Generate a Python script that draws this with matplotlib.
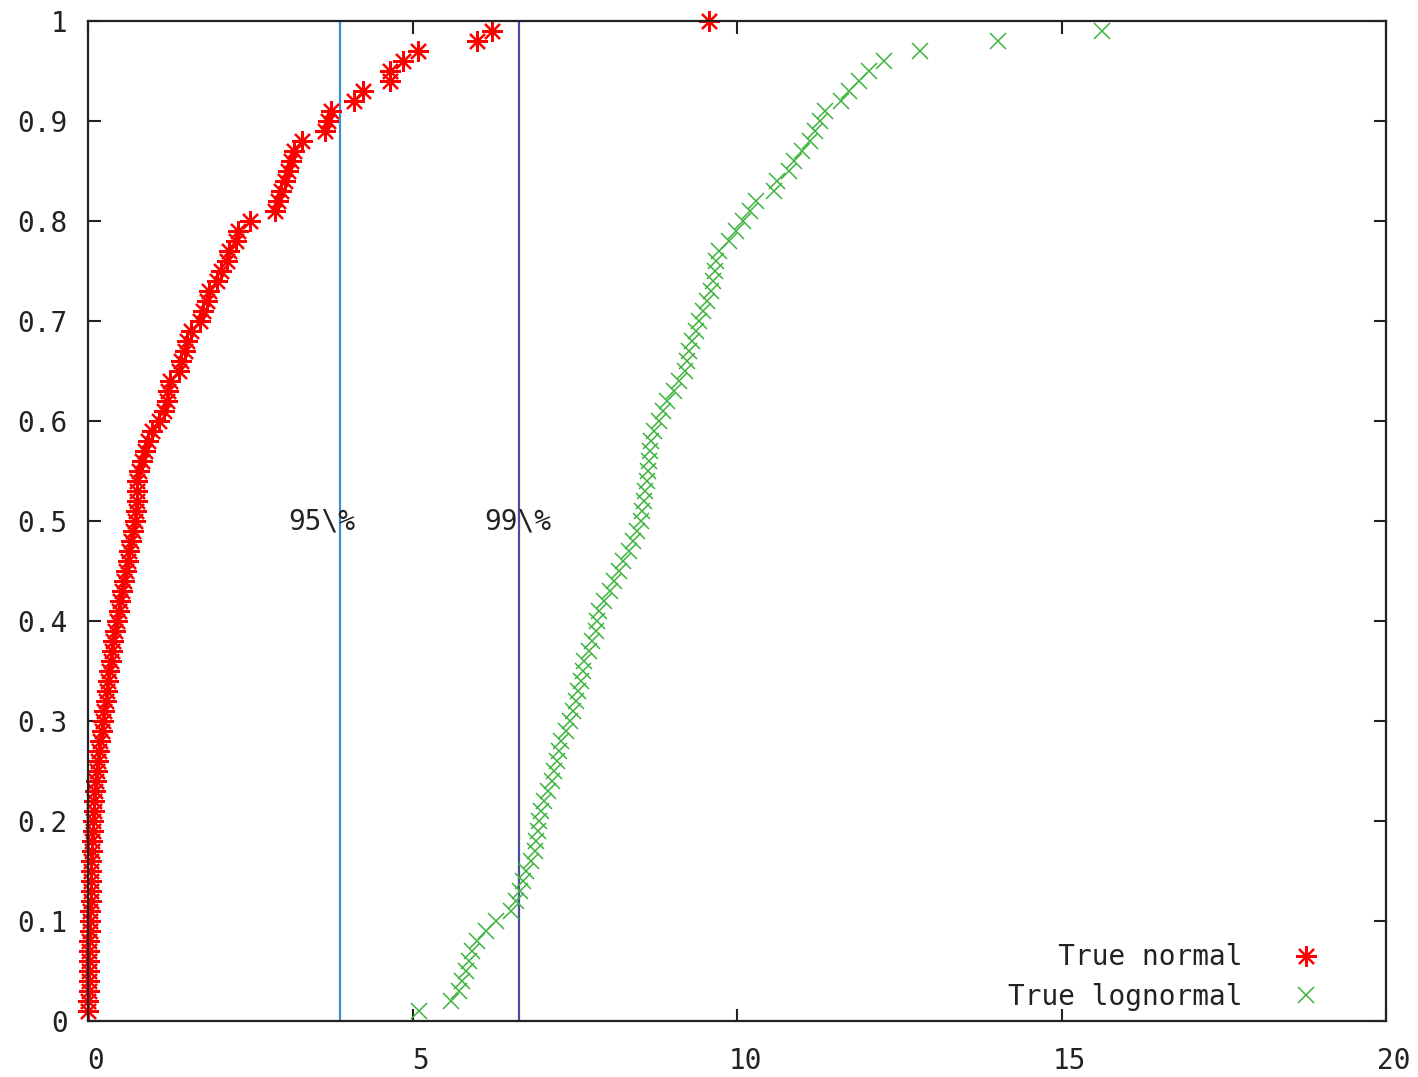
import numpy as np
import matplotlib
matplotlib.use("Agg")
import matplotlib.pyplot as plt
import matplotlib.transforms as mtransforms
from matplotlib.ticker import FuncFormatter

# Sorted sample values; the empirical CDF level of the i-th value is i/100
normal_x = [
    0.00, 0.00, 0.01, 0.01, 0.01, 0.02, 0.02, 0.02, 0.03, 0.03,
    0.03, 0.04, 0.04, 0.04, 0.05, 0.05, 0.06, 0.06, 0.07, 0.08,
    0.09, 0.10, 0.11, 0.13, 0.14, 0.15, 0.17, 0.19, 0.21, 0.23,
    0.24, 0.27, 0.29, 0.31, 0.33, 0.35, 0.37, 0.39, 0.42, 0.45,
    0.47, 0.49, 0.53, 0.56, 0.59, 0.61, 0.63, 0.67, 0.70, 0.72,
    0.74, 0.75, 0.75, 0.76, 0.78, 0.83, 0.88, 0.92, 0.98, 1.09,
    1.17, 1.22, 1.24, 1.27, 1.40, 1.43, 1.49, 1.53, 1.58, 1.72,
    1.77, 1.83, 1.86, 1.99, 2.05, 2.14, 2.18, 2.28, 2.31, 2.49,
    2.88, 2.92, 2.97, 3.03, 3.08, 3.13, 3.18, 3.29, 3.65, 3.70,
    3.74, 4.10, 4.24, 4.65, 4.66, 4.85, 5.08, 6.00, 6.23, 9.57,
]

lognormal_x = [
    5.10, 5.60, 5.72, 5.77, 5.83, 5.87, 5.92, 6.00, 6.14, 6.29,
    6.52, 6.60, 6.66, 6.71, 6.75, 6.83, 6.88, 6.91, 6.94, 6.95,
    6.98, 7.03, 7.09, 7.15, 7.18, 7.22, 7.25, 7.29, 7.37, 7.42,
    7.48, 7.52, 7.55, 7.60, 7.63, 7.65, 7.72, 7.77, 7.82, 7.85,
    7.88, 7.95, 8.05, 8.10, 8.18, 8.25, 8.34, 8.40, 8.46, 8.52,
    8.54, 8.57, 8.59, 8.62, 8.63, 8.65, 8.66, 8.68, 8.72, 8.80,
    8.86, 8.92, 9.03, 9.10, 9.20, 9.23, 9.26, 9.31, 9.37, 9.42,
    9.48, 9.54, 9.60, 9.63, 9.66, 9.68, 9.72, 9.88, 9.98, 10.10,
    10.20, 10.30, 10.57, 10.62, 10.80, 10.88, 11.00, 11.12, 11.20, 11.28,
    11.35, 11.60, 11.72, 11.88, 12.03, 12.26, 12.82, 14.02, 15.62,
]

cutoff_x = [3.88, 6.64]
cutoff_labels = ["95\\%", "99\\%"]
cutoff_label_x = [3.60, 6.62]
cutoff_colors = ["#3d8fd1", "#4b4ba6"]

normal_y = np.arange(1, len(normal_x) + 1) / 100
lognormal_y = np.arange(1, len(lognormal_x) + 1) / 100

font = "DejaVu Sans Mono"
fs = 20

fig = plt.figure(figsize=(14.18, 10.77), dpi=100)
ax = fig.add_axes([88 / 1418, 56 / 1077, 1298 / 1418, 1000 / 1077])

for xv, col in zip(cutoff_x, cutoff_colors):
    ax.axvline(xv, color=col, lw=1.6, zorder=1)
for xv, txt in zip(cutoff_label_x, cutoff_labels):
    ax.text(xv, 0.5, txt, ha="center", va="center", family=font,
            fontsize=fs, color="#222222", zorder=3)

ax.plot(normal_x, normal_y, linestyle="none", marker=(8, 2, 0),
        markersize=15, markeredgewidth=1.6, color="#ff0000",
        label="   True normal", zorder=2, clip_on=False)
ax.plot(lognormal_x, lognormal_y, linestyle="none", marker="x",
        markersize=12, markeredgewidth=1.1, color="#3cb43c",
        label="True lognormal", zorder=2)

ax.set_xlim(0, 20)
ax.set_ylim(0, 1)
ax.set_xticks([0, 5, 10, 15, 20])
ax.set_yticks(np.arange(0, 1.01, 0.1))
ax.yaxis.set_major_formatter(FuncFormatter(lambda v, p: "%g" % round(v, 1)))

ax.tick_params(direction="in", length=9, width=1.5, top=True, right=True,
               labelsize=fs, colors="#222222")
ax.tick_params(axis="x", pad=19)
ax.tick_params(axis="y", pad=14.5)
for lab in ax.get_xticklabels() + ax.get_yticklabels():
    lab.set_family(font)
shift = mtransforms.ScaledTranslation(8 / 100, 0, fig.dpi_scale_trans)
for lab in ax.get_xticklabels():
    lab.set_transform(lab.get_transform() + shift)

for sp in ax.spines.values():
    sp.set_linewidth(1.6)
    sp.set_color("#222222")

leg = ax.legend(loc="lower right", bbox_to_anchor=(0.96, 0.01),
                markerfirst=False, frameon=False, borderpad=0,
                borderaxespad=0, handlelength=2, handletextpad=1.3,
                labelspacing=0.42, prop={"family": font, "size": fs})
for t in leg.get_texts():
    t.set_color("#222222")

fig.savefig("out.png", dpi=100, facecolor="white")
